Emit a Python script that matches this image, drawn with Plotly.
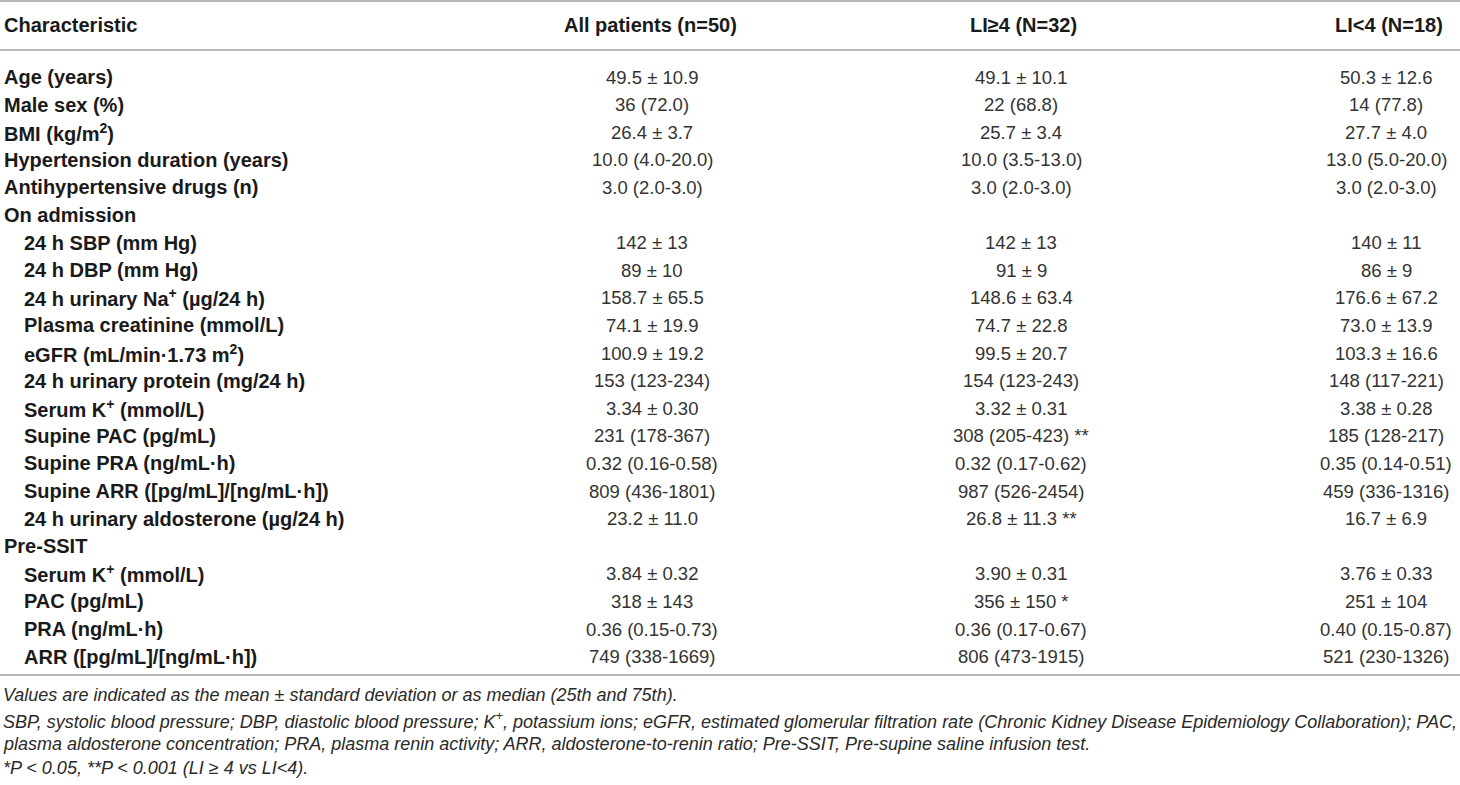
import plotly.graph_objects as go

# table content
headers = ["Characteristic", "All patients (n=50)", "LI≥4 (N=32)", "LI<4 (N=18)"]

labels = [
    "Age (years)", "Male sex (%)", "BMI (kg/m<sup>2</sup>)", "Hypertension duration (years)",
    "Antihypertensive drugs (n)", "On admission",
    "24 h SBP (mm Hg)", "24 h DBP (mm Hg)", "24 h urinary Na<sup>+</sup> (µg/24 h)",
    "Plasma creatinine (mmol/L)", "eGFR (mL/min·1.73 m<sup>2</sup>)", "24 h urinary protein (mg/24 h)",
    "Serum K<sup>+</sup> (mmol/L)", "Supine PAC (pg/mL)", "Supine PRA (ng/mL·h)",
    "Supine ARR ([pg/mL]/[ng/mL·h])", "24 h urinary aldosterone (µg/24 h)",
    "Pre-SSIT",
    "Serum K<sup>+</sup> (mmol/L)", "PAC (pg/mL)", "PRA (ng/mL·h)", "ARR ([pg/mL]/[ng/mL·h])",
]
indented = [0, 0, 0, 0, 0, 0, 1, 1, 1, 1, 1, 1, 1, 1, 1, 1, 1, 0, 1, 1, 1, 1]

all_patients = [
    "49.5 ± 10.9", "36 (72.0)", "26.4 ± 3.7", "10.0 (4.0-20.0)", "3.0 (2.0-3.0)", "",
    "142 ± 13", "89 ± 10", "158.7 ± 65.5", "74.1 ± 19.9", "100.9 ± 19.2", "153 (123-234)",
    "3.34 ± 0.30", "231 (178-367)", "0.32 (0.16-0.58)", "809 (436-1801)", "23.2 ± 11.0", "",
    "3.84 ± 0.32", "318 ± 143", "0.36 (0.15-0.73)", "749 (338-1669)",
]
li_ge4 = [
    "49.1 ± 10.1", "22 (68.8)", "25.7 ± 3.4", "10.0 (3.5-13.0)", "3.0 (2.0-3.0)", "",
    "142 ± 13", "91 ± 9", "148.6 ± 63.4", "74.7 ± 22.8", "99.5 ± 20.7", "154 (123-243)",
    "3.32 ± 0.31", "308 (205-423) **", "0.32 (0.17-0.62)", "987 (526-2454)", "26.8 ± 11.3 **", "",
    "3.90 ± 0.31", "356 ± 150 *", "0.36 (0.17-0.67)", "806 (473-1915)",
]
li_lt4 = [
    "50.3 ± 12.6", "14 (77.8)", "27.7 ± 4.0", "13.0 (5.0-20.0)", "3.0 (2.0-3.0)", "",
    "140 ± 11", "86 ± 9", "176.6 ± 67.2", "73.0 ± 13.9", "103.3 ± 16.6", "148 (117-221)",
    "3.38 ± 0.28", "185 (128-217)", "0.35 (0.14-0.51)", "459 (336-1316)", "16.7 ± 6.9", "",
    "3.76 ± 0.33", "251 ± 104", "0.40 (0.15-0.87)", "521 (230-1326)",
]

footnotes = [
    "Values are indicated as the mean ± standard deviation or as median (25th and 75th).",
    "SBP, systolic blood pressure; DBP, diastolic blood pressure; K<sup>+</sup>, potassium ions; "
    "eGFR, estimated glomerular filtration rate (Chronic Kidney Disease Epidemiology Collaboration); PAC,",
    "plasma aldosterone concentration; PRA, plasma renin activity; ARR, aldosterone-to-renin ratio; "
    "Pre-SSIT, Pre-supine saline infusion test.",
    "*P < 0.05, **P < 0.001 (LI ≥ 4 vs LI<4).",
]

W, H = 1460, 785
FONT = "Liberation Sans"
head_x = [2, 650, 1023, 1389]
val_x = [652, 1021, 1386]
header_y = 25
row0, row_h = 77, 27.6
rule_color = "#a0a0a0"

fig = go.Figure()
ann = []

for i, h in enumerate(headers):
    ann.append(dict(x=head_x[i], y=header_y, text=h, xanchor="left" if i == 0 else "center",
                    font=dict(family=FONT, size=20, color="#1a1a1a", weight="bold")))

for r, lab in enumerate(labels):
    y = row0 + r * row_h
    ann.append(dict(x=head_x[0] + 20 * indented[r], y=y, text=lab, xanchor="left",
                    font=dict(family=FONT, size=20, color="#1a1a1a", weight="bold")))
    for c, col in enumerate([all_patients, li_ge4, li_lt4]):
        if col[r]:
            ann.append(dict(x=val_x[c], y=y, text=col[r], xanchor="center",
                            font=dict(family=FONT, size=18.5, color="#333333")))

foot_y = [695, 720, 744, 768]
for t, y in zip(footnotes, foot_y):
    ann.append(dict(x=1, y=y, text=t, xanchor="left",
                    font=dict(family=FONT, size=18, color="#2a2a2a", style="italic")))

for a in ann:
    a.update(xref="x", yref="y", yanchor="middle", showarrow=False)

for yl in [1, 50, 675]:
    fig.add_shape(type="line", x0=0, x1=W, y0=yl, y1=yl, xref="x", yref="y",
                  line=dict(color=rule_color, width=1.6))

fig.update_layout(
    width=W, height=H,
    margin=dict(l=0, r=0, t=0, b=0),
    paper_bgcolor="white", plot_bgcolor="white",
    annotations=ann,
    xaxis=dict(range=[0, W], visible=False, fixedrange=True),
    yaxis=dict(range=[H, 0], visible=False, fixedrange=True),
    showlegend=False,
)

# drop the page's default body margin so the figure sits flush in the window
fig.write_html("out.html", config={"displayModeBar": False},
               post_script="document.body.style.margin='0';document.body.style.overflow='hidden';")
